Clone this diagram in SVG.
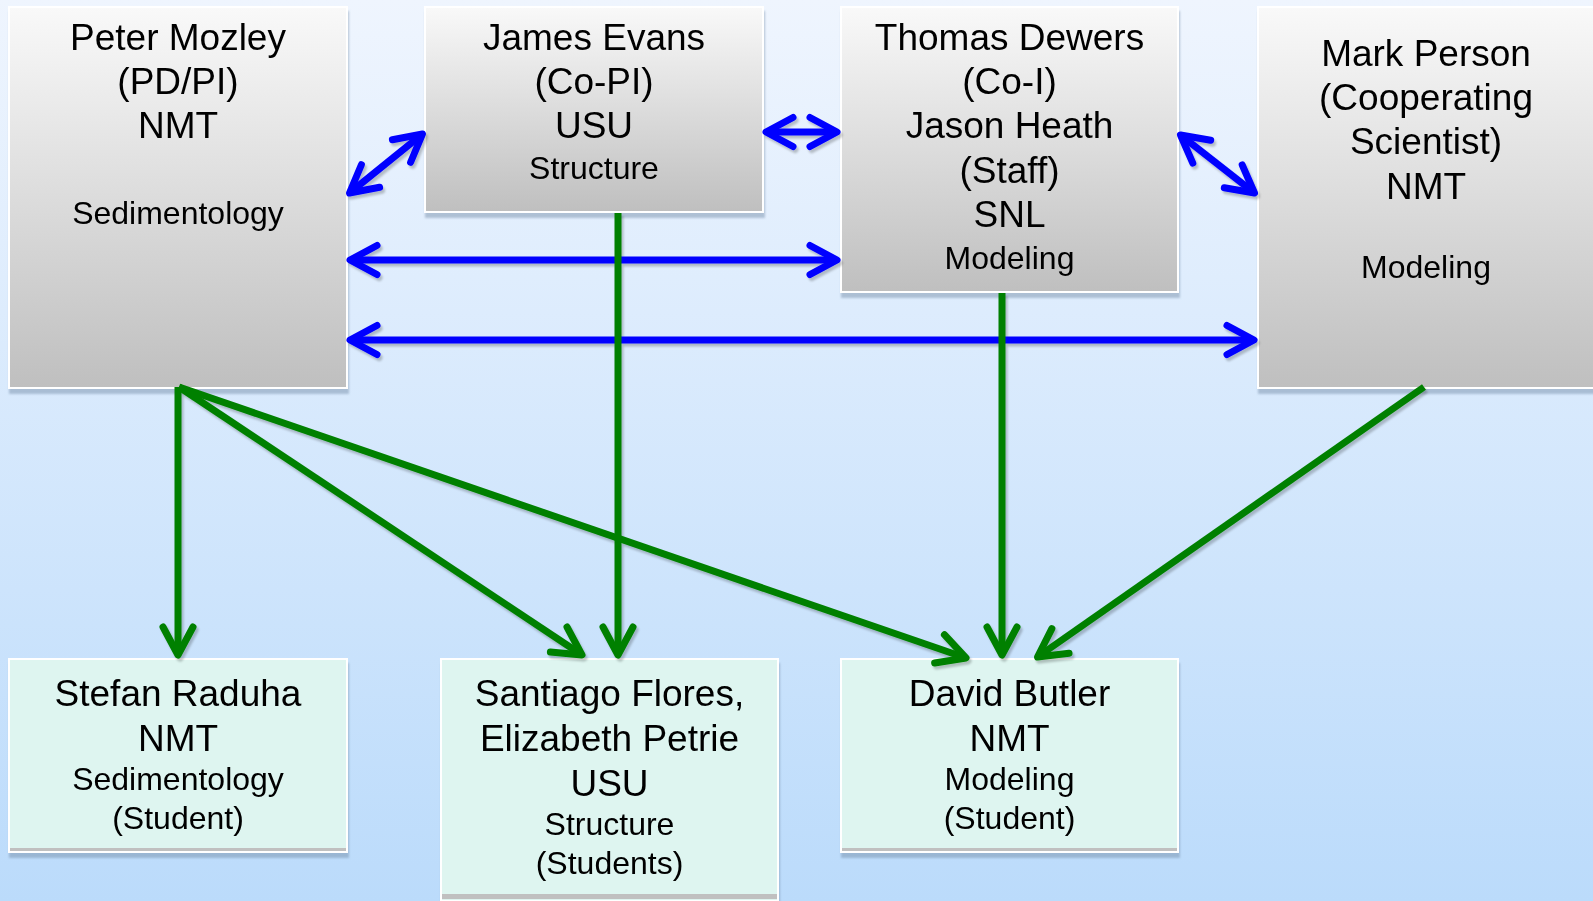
<svg xmlns="http://www.w3.org/2000/svg" width="1593" height="901" viewBox="0 0 1593 901">
<defs>
<linearGradient id="bg" x1="0" y1="0" x2="0" y2="1">
<stop offset="0" stop-color="#eff5fe"/>
<stop offset="1" stop-color="#bbdbfb"/>
</linearGradient>
<linearGradient id="gray" x1="0" y1="0" x2="0" y2="1">
<stop offset="0" stop-color="#f9f9f9"/>
<stop offset="1" stop-color="#bfbfbf"/>
</linearGradient>
<filter id="sh" x="-5%" y="-5%" width="110%" height="115%">
<feDropShadow dx="1" dy="5" stdDeviation="1.2" flood-color="#6f86a3" flood-opacity="0.45"/>
</filter>
<filter id="lsh" x="-5%" y="-5%" width="110%" height="110%">
<feDropShadow dx="2" dy="3" stdDeviation="1.2" flood-color="#000" flood-opacity="0.22"/>
</filter>
<marker id="ab" markerUnits="userSpaceOnUse" markerWidth="60" markerHeight="60" refX="0" refY="0" viewBox="-40 -30 50 60" orient="auto-start-reverse" overflow="visible">
<path d="M -27 -14.5 L 0 0 L -27 14.5" fill="none" stroke="#0000ff" stroke-width="7" stroke-linecap="round" stroke-linejoin="round"/>
</marker>
<marker id="ag" markerUnits="userSpaceOnUse" markerWidth="60" markerHeight="60" refX="0" refY="0" viewBox="-40 -30 50 60" orient="auto" overflow="visible">
<path d="M -28 -15 L 0 0 L -28 15" fill="none" stroke="#008000" stroke-width="7" stroke-linecap="round" stroke-linejoin="round"/>
</marker>
</defs>
<style>
.top{fill:url(#gray);stroke:#ffffff;stroke-width:2;}
.bot{fill:#def5f0;stroke:#ffffff;stroke-width:2;}
.bar{fill:#c0c0c0;}
.t{font-family:"Liberation Sans",Arial,sans-serif;fill:#000;text-anchor:middle;}
.L{font-size:37px;}
.S{font-size:32px;}
.blue{stroke:#0000ff;stroke-width:7;fill:none;marker-start:url(#ab);marker-end:url(#ab);}
.green{stroke:#008000;stroke-width:7;fill:none;marker-end:url(#ag);}
</style>
<rect x="0" y="0" width="1593" height="901" fill="url(#bg)"/>

<g id="peter" filter="url(#sh)">
<rect class="top" x="9" y="7" width="338" height="381"/>
<text class="t L" x="178" y="50">Peter Mozley</text>
<text class="t L" x="178" y="94">(PD/PI)</text>
<text class="t L" x="178" y="138">NMT</text>
<text class="t S" x="178" y="224">Sedimentology</text>
</g>

<g id="james" filter="url(#sh)">
<rect class="top" x="425" y="7" width="338" height="205"/>
<text class="t L" x="594" y="50">James Evans</text>
<text class="t L" x="594" y="94">(Co-PI)</text>
<text class="t L" x="594" y="138">USU</text>
<text class="t S" x="594" y="179">Structure</text>
</g>

<g id="thomas" filter="url(#sh)">
<rect class="top" x="841" y="7" width="337" height="285"/>
<text class="t L" x="1009.5" y="50">Thomas Dewers</text>
<text class="t L" x="1009.5" y="94">(Co-I)</text>
<text class="t L" x="1009.5" y="138">Jason Heath</text>
<text class="t L" x="1009.5" y="183">(Staff)</text>
<text class="t L" x="1009.5" y="227">SNL</text>
<text class="t S" x="1009.5" y="269">Modeling</text>
</g>

<g id="mark" filter="url(#sh)">
<rect class="top" x="1258" y="7" width="338" height="381"/>
<text class="t L" x="1426" y="66">Mark Person</text>
<text class="t L" x="1426" y="110">(Cooperating</text>
<text class="t L" x="1426" y="154">Scientist)</text>
<text class="t L" x="1426" y="199">NMT</text>
<text class="t S" x="1426" y="278">Modeling</text>
</g>

<g id="stefan" filter="url(#sh)">
<rect class="bot" x="9" y="659" width="338" height="193"/>
<rect class="bar" x="10" y="848" width="336" height="3"/>
<text class="t L" x="178" y="706">Stefan Raduha</text>
<text class="t L" x="178" y="751">NMT</text>
<text class="t S" x="178" y="790">Sedimentology</text>
<text class="t S" x="178" y="829">(Student)</text>
</g>

<g id="santiago" filter="url(#sh)">
<rect class="bot" x="441" y="659" width="337" height="242"/>
<rect class="bar" x="442" y="894" width="335" height="5"/>
<text class="t L" x="609.5" y="706">Santiago Flores,</text>
<text class="t L" x="609.5" y="751">Elizabeth Petrie</text>
<text class="t L" x="609.5" y="796">USU</text>
<text class="t S" x="609.5" y="835">Structure</text>
<text class="t S" x="609.5" y="874">(Students)</text>
</g>

<g id="david" filter="url(#sh)">
<rect class="bot" x="841" y="659" width="337" height="193"/>
<rect class="bar" x="842" y="848" width="335" height="3"/>
<text class="t L" x="1009.5" y="706">David Butler</text>
<text class="t L" x="1009.5" y="751">NMT</text>
<text class="t S" x="1009.5" y="790">Modeling</text>
<text class="t S" x="1009.5" y="829">(Student)</text>
</g>

<g id="connectors" filter="url(#lsh)">
<line class="blue" x1="349.5" y1="193" x2="422.5" y2="134"/>
<line class="blue" x1="766" y1="132" x2="837" y2="132"/>
<line class="blue" x1="350" y1="260" x2="837" y2="260"/>
<line class="blue" x1="350" y1="340" x2="1254" y2="340"/>
<line class="blue" x1="1180.5" y1="135" x2="1254.5" y2="193"/>
<line class="green" x1="178" y1="387" x2="178" y2="655"/>
<line class="green" x1="179" y1="387" x2="582" y2="655"/>
<line class="green" x1="179" y1="387" x2="966" y2="658"/>
<line class="green" x1="618" y1="213" x2="618" y2="655"/>
<line class="green" x1="1002" y1="293" x2="1002" y2="655"/>
<line class="green" x1="1424" y1="387" x2="1037.5" y2="657"/>
</g>
</svg>
